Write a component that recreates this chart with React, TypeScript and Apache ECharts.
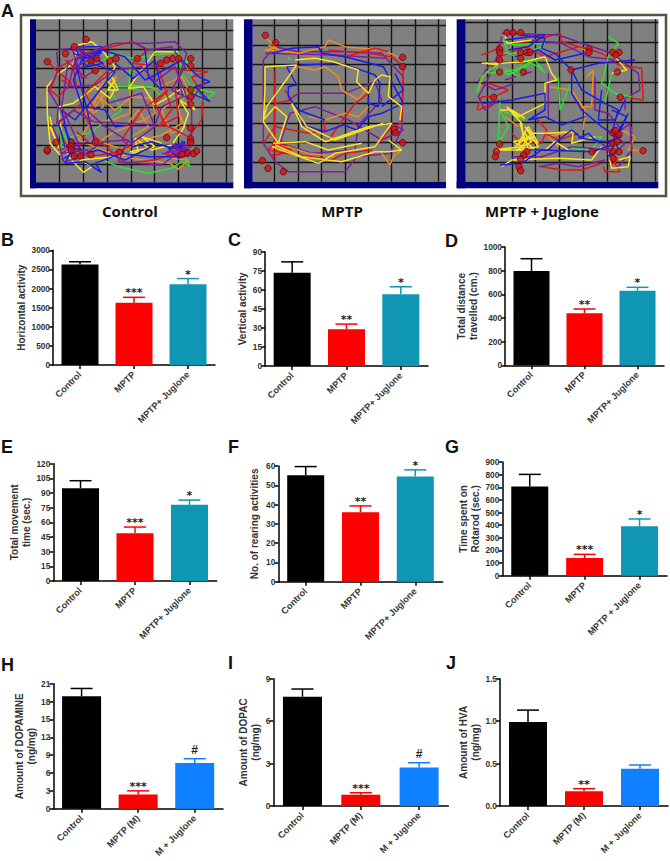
import React, { useEffect, useRef } from "react";
import * as echarts from "echarts";

// ---------- Bar panel data ----------
const catsTreat = ["Control", "MPTP", "MPTP+ Juglone"];
const catsTreatG = ["Control", "MPTP", "MPTP + Juglone"];
const catsNeuro = ["Control", "MPTP (M)", "M + Juglone"];

const horizontalMean = [2630, 1630, 2110];
const horizontalTop = [2700, 1770, 2260];
const verticalMean = [73.5, 28.9, 56.4];
const verticalTop = [82, 33, 62.4];
const distanceMean = [797, 440, 631];
const distanceTop = [901, 476, 659];
const movementMean = [95, 48.8, 78];
const movementTop = [102.6, 55.2, 82.8];
const rearingMean = [55.2, 36, 54.5];
const rearingTop = [59.7, 39.3, 58];
const rotarodMean = [707, 140, 391];
const rotarodTop = [802, 169, 449];
const dopamineMean = [18.9, 2.4, 7.67];
const dopamineTop = [20.2, 3.0, 8.4];
const dopacMean = [7.73, 0.8, 2.73];
const dopacTop = [8.27, 0.94, 3.06];
const hvaMean = [0.99, 0.173, 0.44];
const hvaTop = [1.13, 0.204, 0.483];

const sigB = ["", "***", "*"];
const sigC = ["", "**", "*"];
const sigE = ["", "***", "*"];
const sigH = ["", "***", "#"];
const sigJ = ["", "**", ""];

const BLACK = "#000000";
const RED = "#ff0000";
const TEAL = "#0f96b3";
const BLUE = "#0f80ff";
const colorsTeal = [BLACK, RED, TEAL];
const colorsBlue = [BLACK, RED, BLUE];

type Panel = {
  letter: string; lx: number; ly: number;
  name: string; nameGap: number;
  cats: string[]; mean: number[]; top: number[]; sig: string[]; colors: string[];
  max: number; step: number; digits: number;
  l: number; r: number; t: number; b: number; bw: number;
};

const panels: Panel[] = [
  { letter: "B", lx: 1, ly: 240, name: "Horizontal activity", nameGap: 26, cats: catsTreat, mean: horizontalMean, top: horizontalTop, sig: sigB, colors: colorsTeal, max: 3000, step: 500, digits: 0, l: 53, r: 215, t: 250.3, b: 365, bw: 37 },
  { letter: "C", lx: 228, ly: 240, name: "Vertical activity", nameGap: 17, cats: catsTreat, mean: verticalMean, top: verticalTop, sig: sigC, colors: colorsTeal, max: 90, step: 15, digits: 0, l: 265, r: 428, t: 251.7, b: 366, bw: 37 },
  { letter: "D", lx: 445, ly: 241, name: "Total distance\ntravelled (cm.)", nameGap: 22, cats: catsTreat, mean: distanceMean, top: distanceTop, sig: sigC, colors: colorsTeal, max: 1000, step: 200, digits: 0, l: 505, r: 664, t: 247, b: 365.3, bw: 36 },
  { letter: "E", lx: 1, ly: 447, name: "Total movement\ntime (sec.)", nameGap: 16, cats: catsTreat, mean: movementMean, top: movementTop, sig: sigE, colors: colorsTeal, max: 120, step: 15, digits: 0, l: 53.3, r: 216.7, t: 463.7, b: 581, bw: 37 },
  { letter: "F", lx: 228, ly: 447, name: "No. of rearing activities", nameGap: 18, cats: catsTreat, mean: rearingMean, top: rearingTop, sig: sigC, colors: colorsTeal, max: 60, step: 10, digits: 0, l: 278.3, r: 442.7, t: 466, b: 581.7, bw: 37 },
  { letter: "G", lx: 445, ly: 447, name: "Time spent on\nRotarod (sec.)", nameGap: 15, cats: catsTreatG, mean: rotarodMean, top: rotarodTop, sig: sigE, colors: colorsTeal, max: 900, step: 100, digits: 0, l: 502.3, r: 667, t: 462, b: 575.7, bw: 37 },
  { letter: "H", lx: 1, ly: 665, name: "Amount of DOPAMINE\n(ng/mg)", nameGap: 15, cats: catsNeuro, mean: dopamineMean, top: dopamineTop, sig: sigH, colors: colorsBlue, max: 21, step: 3, digits: 0, l: 53.3, r: 223, t: 683.7, b: 808.7, bw: 39 },
  { letter: "I", lx: 228, ly: 663, name: "Amount of DOPAC\n(ng/mg)", nameGap: 10, cats: catsNeuro, mean: dopacMean, top: dopacTop, sig: sigH, colors: colorsBlue, max: 9, step: 3, digits: 0, l: 273.3, r: 448.3, t: 678.7, b: 806, bw: 39 },
  { letter: "J", lx: 446, ly: 663, name: "Amount of HVA\n(ng/mg)", nameGap: 16, cats: catsNeuro, mean: hvaMean, top: hvaTop, sig: sigJ, colors: colorsBlue, max: 1.5, step: 0.5, digits: 1, l: 500, r: 668, t: 678.7, b: 806, bw: 38 },
];

// ---------- Open-field tracking data (arena units) ----------
type Poly = number[][];
const YELLOW = "#ffe21a", TRED = "#e5141a", TBLUE = "#1c1ce6", PURPLE = "#7d1f9c", ORANGE = "#f08c1e", GREEN = "#2fe02f";

const a1Yellow: Poly[] = [[[135,435],[105,400],[97,310],[96,230],[125,195],[175,160],[190,105],[230,95],[265,125],[300,170],[280,215],[300,235],[285,265],[240,230],[175,280],[130,290],[140,370],[160,440],[205,487],[232,470],[195,450],[300,440],[370,425],[360,385],[410,420],[470,405],[505,355],[520,310],[495,270],[540,300],[500,235],[455,265],[420,285],[385,230],[340,235],[420,125],[490,125]],[[105,350],[135,420],[115,370],[105,320]],[[290,200],[310,240],[280,240],[300,210]],[[345,425],[420,410],[380,380],[440,400]]];
const a1Orange: Poly[] = [[[240,180],[270,200],[235,290],[205,320],[250,260],[300,300],[350,260],[410,265],[420,310],[385,330],[290,370],[255,395],[330,420],[385,390],[440,375],[500,340],[490,290],[520,240],[500,200],[425,235],[345,225],[345,310],[290,330],[225,340],[190,390],[310,440],[465,460],[490,478],[520,450],[470,445]],[[250,210],[265,290],[220,320],[270,250],[305,200],[240,240]],[[490,300],[510,350],[470,370],[440,300],[500,250]],[[350,380],[400,350],[370,300],[330,350]]];
const a1Red: Poly[] = [[[97,155],[135,190],[170,220],[130,260],[105,240],[135,170],[210,130],[290,110],[350,95],[400,120],[350,160],[440,170],[500,180],[580,185],[530,200],[565,260],[560,330],[520,380],[450,345],[420,280],[460,240],[380,300],[340,360],[320,390],[345,410],[290,430],[220,440],[150,400],[130,340],[195,285],[240,380],[330,460],[420,450],[480,430],[520,400]],[[140,210],[185,235],[175,170],[150,150],[215,205]],[[430,170],[470,300],[430,350],[490,320],[480,230]],[[240,300],[210,250],[280,180],[250,150]],[[130,420],[175,410],[220,395],[185,365]],[[440,430],[515,440],[500,390]]];
const a1Blue: Poly[] = [[[140,450],[170,430],[140,300],[180,330],[205,300],[175,210],[200,150],[260,125],[230,160],[300,185],[255,240],[215,290],[270,300],[300,350],[350,345],[350,410],[410,395],[470,415],[520,420],[480,440],[400,440],[320,430],[240,460],[260,488],[210,455],[150,460],[180,400],[240,400],[180,150],[260,120],[330,140],[390,210],[420,195],[500,150],[550,200],[585,215],[540,230],[585,275],[530,250]],[[175,130],[215,145],[190,110],[260,110],[215,170],[180,115],[265,160],[195,175]],[[470,410],[505,425],[480,400],[525,430],[490,445],[460,415],[510,395],[495,430]],[[130,340],[150,410],[200,420],[160,380],[145,340],[180,440],[250,420],[330,450],[410,410]],[[390,120],[400,200],[440,240],[420,150],[355,205],[300,160]]];
const a1Purple: Poly[] = [[[125,125],[130,180],[100,240],[130,290],[125,340],[175,300],[235,335],[330,340],[420,345],[440,290],[505,260],[490,210],[515,130],[480,95],[410,100],[300,100],[240,120],[180,150],[160,230],[240,225],[300,180],[380,170],[420,215],[480,170],[530,300],[530,390],[500,420],[440,465],[370,460],[310,455],[340,390],[265,395],[190,445],[145,455],[130,390],[110,345]],[[130,120],[210,110],[170,180],[235,140],[170,110],[200,205],[250,175]],[[470,400],[520,440],[500,400],[450,430],[530,410]],[[160,150],[140,290],[190,400],[140,430],[220,420]],[[350,95],[400,120],[470,110],[510,170],[470,240],[530,270],[570,210]],[[280,280],[380,250],[420,350],[350,400],[270,350],[215,300]]];
const a1Green: Poly[] = [[[125,320],[140,400],[130,430],[170,380],[220,370],[265,340],[320,300],[280,230],[410,230],[440,260],[500,265],[560,240],[600,248],[565,275],[500,190],[490,125],[350,145],[300,130],[265,150]],[[240,440],[310,470],[400,490],[470,475],[500,455],[525,470],[510,440]],[[135,350],[170,420],[120,400]],[[350,150],[340,240],[380,230]],[[500,430],[470,410]],[[520,190],[510,140],[540,220],[510,260]]];
const a1Dots = [[213,88],[178,110],[151,131],[97,155],[245,146],[228,153],[285,153],[303,146],[241,182],[367,146],[437,160],[455,150],[473,146],[491,146],[527,146],[527,168],[527,239],[527,261],[527,283],[527,354],[455,383],[527,387],[527,397],[123,397],[97,423],[169,397],[169,408],[169,420],[178,438],[196,438],[228,434],[241,397],[313,426],[501,433],[519,428],[536,431],[545,423],[97,420]];
const a1XLines = [133,204,277,348,419,491,562,633];
const a1YLines = [60,118,175,233,291,347,405,463];

const a2Purple: Poly[] = [[[85,150],[85,400],[120,455],[160,485],[330,485],[365,440],[465,430],[500,360],[505,200],[440,130],[330,125],[190,125],[120,110],[85,150]],[[160,270],[190,250],[330,250],[420,215],[440,270],[370,345],[360,420],[230,430],[135,400],[165,310],[240,290],[340,330],[440,390],[505,360],[470,340]],[[90,130],[300,135],[450,145]]];
const a2Yellow: Poly[] = [[[90,170],[185,165],[150,215],[95,290],[85,330],[120,290],[155,320],[130,400],[85,335],[90,240],[90,170]],[[110,410],[165,430],[250,460],[300,430],[420,410],[470,340],[400,350],[270,395],[200,350],[170,280],[215,350],[300,390],[400,355],[445,340]],[[180,150],[240,145],[295,155],[370,180],[365,215],[400,250],[420,210],[440,195],[465,200],[460,260],[500,290],[495,330]],[[120,405],[200,440],[320,455],[420,425],[460,425],[500,420],[460,390]],[[115,400],[210,395],[280,420],[380,400]]];
const a2Blue: Poly[] = [[[110,130],[170,115],[250,110],[260,130],[330,140],[445,170],[505,280],[440,310],[400,320],[365,360],[325,345],[270,365],[205,345],[190,300],[160,260],[160,230],[185,225],[155,170],[205,165],[310,160],[350,170],[420,195],[435,220],[430,290],[400,280],[400,260]],[[270,330],[190,300]],[[480,190],[505,240],[440,290]]];
const a2Orange: Poly[] = [[[85,75],[125,115],[90,120],[190,130],[270,110],[280,90],[330,110],[440,120],[490,140]],[[150,170],[190,170],[240,180],[270,170],[310,200],[320,240],[370,270],[390,240]],[[220,320],[270,330],[330,310],[370,320],[400,290]],[[440,430],[465,465],[475,440],[500,420]],[[110,410],[160,410],[220,430],[300,440]],[[100,105],[140,125]]];
const a2Red: Poly[] = [[[120,180],[118,400],[100,420],[150,430],[230,440],[290,450],[330,430],[410,420]],[[85,400],[120,350],[220,370],[270,360],[265,330]],[[120,280],[170,270],[150,240]],[[280,120],[400,130],[470,140],[505,170],[500,340],[470,350],[430,400]],[[260,130],[330,140],[420,115],[460,125]],[[280,390],[360,280],[400,250]],[[110,400],[170,420],[110,440],[140,400]]];
const a2Green: Poly[] = [[[160,140],[165,150]]];
const a2Dots = [[91,76],[122,98],[503,142],[503,170],[478,358],[482,368],[503,398],[82,452],[99,475],[145,485]];
const a2XLines = [117,189,259,330,400,470,541,610];
const a2YLines = [47,105,163,222,281,340,398,457];

const a3Green: Poly[] = [[[95,250],[110,200],[150,170],[190,195],[240,170],[270,150],[300,190],[280,170],[190,130],[175,90],[205,105],[300,100]],[[165,260],[160,400],[190,350],[165,300],[240,330]],[[340,200],[345,300],[375,225]],[[490,80],[520,100],[490,140],[470,220],[510,250],[560,260]],[[420,385],[470,380],[440,420],[380,415]],[[500,190],[480,280]],[[130,190],[210,180],[250,160],[220,200],[180,175]],[[165,130],[240,130],[290,110]]];
const a3Blue: Poly[] = [[[230,75],[300,85],[290,115],[330,130],[380,180],[380,250],[410,300],[470,350],[500,370],[520,300],[480,280],[410,240],[380,180],[460,160],[570,150]],[[115,280],[200,270],[300,250],[300,300],[250,330],[300,320],[350,345],[420,320]],[[240,420],[310,420],[340,390],[380,360],[410,385],[480,395],[505,390],[550,310]],[[165,465],[230,460],[290,420],[440,425],[520,400]],[[210,140],[280,120],[330,150],[420,130]],[[490,400],[530,380],[500,360],[520,420],[490,440],[545,320],[500,300]],[[180,90],[300,75],[250,110],[190,120]],[[470,240],[460,330],[510,330],[540,270]],[[400,385],[430,370],[460,400]]];
const a3Yellow: Poly[] = [[[110,160],[165,160],[240,155],[300,140],[320,190],[335,210],[300,220],[300,280],[220,320],[185,290],[230,340],[235,390],[270,420],[210,420],[150,420],[230,410],[260,370],[310,370],[385,365],[380,400],[450,380]],[[220,400],[250,350],[280,400],[250,380],[210,410]],[[170,470],[200,450],[340,445],[440,450],[470,410]],[[490,430],[500,475],[550,470],[555,440],[520,450]],[[510,140],[545,180],[500,190]],[[180,75],[185,100],[260,90]],[[225,340],[250,420],[205,395],[270,380],[240,350],[280,410],[215,420],[260,395],[235,365]],[[165,300],[200,300],[240,325]],[[300,420],[330,395],[370,420]],[[120,160],[160,165]]];
const a3Orange: Poly[] = [[[100,240],[120,190],[140,175]],[[310,370],[380,365],[310,380],[340,410]],[[310,230],[380,240],[420,300],[415,360]],[[180,320],[220,350]],[[530,360],[570,380],[550,420],[594,422]],[[425,200],[445,180],[440,290],[400,290]],[[400,110],[440,130]]];
const a3Red: Poly[] = [[[110,135],[150,120],[165,100],[250,95],[345,70],[350,95],[470,130],[520,165],[590,175],[595,270],[555,265]],[[95,300],[110,260],[150,260],[190,240],[130,220]],[[100,300],[165,270]],[[270,320],[305,360],[290,400],[230,400],[200,370]],[[290,470],[350,480],[410,480],[470,460]],[[475,470],[480,485],[525,485],[490,430]],[[560,350],[555,400]],[[300,370],[340,390],[400,370]],[[165,140],[240,110],[300,140],[400,110]],[[480,410],[520,450],[490,470]]];
const a3Purple: Poly[] = [[[170,80],[160,130],[125,215],[100,260],[120,300],[170,265]],[[170,70],[340,75],[500,130],[580,190],[585,240],[540,265],[540,300]],[[450,200],[450,300],[490,310],[530,360],[555,340],[560,420],[520,470]],[[310,190],[310,330]],[[180,210],[260,185]],[[280,470],[340,460],[400,470],[480,450]],[[200,440],[290,440],[380,410],[490,420]],[[165,150],[130,170],[100,215],[150,240],[210,220]],[[240,90],[350,100],[430,140],[510,150]],[[470,400],[510,430],[540,400],[500,370]]];
const a3Dots = [[186,68],[204,68],[227,68],[164,118],[164,128],[227,128],[245,127],[255,127],[227,145],[164,150],[164,186],[235,186],[432,117],[432,127],[378,180],[503,127],[522,127],[512,135],[517,186],[146,262],[526,262],[503,368],[512,362],[522,373],[503,400],[517,394],[164,402],[154,425],[151,440],[245,425],[236,435],[227,447],[441,425],[504,425],[522,425],[504,445],[594,422],[222,470],[227,482]];
const a3XLines = [128,201,272,343,416,488,560,631];
const a3YLines = [38,97,157,218,277,337,396,456];

type Arena = {
  ox: number; oy: number; xMin: number; xMax: number; blueL: number; bottom: number;
  xLines: number[]; yLines: number[]; dots: number[][]; tracks: [string, Poly[]][];
};
const arenas: Arena[] = [
  { ox: 15, oy: 10, xMin: 63, xMax: 655, blueL: 45, bottom: 517, xLines: a1XLines, yLines: a1YLines, dots: a1Dots,
    tracks: [[ORANGE, a1Orange], [GREEN, a1Green], [YELLOW, a1Yellow], [TRED, a1Red], [TBLUE, a1Blue], [PURPLE, a1Purple]] },
  { ox: 235, oy: 10, xMin: 53, xMax: 633, blueL: 27, bottom: 515, xLines: a2XLines, yLines: a2YLines, dots: a2Dots,
    tracks: [[GREEN, a2Green], [PURPLE, a2Purple], [ORANGE, a2Orange], [TRED, a2Red], [TBLUE, a2Blue], [YELLOW, a2Yellow]] },
  { ox: 445, oy: 10, xMin: 62, xMax: 640, blueL: 35, bottom: 515, xLines: a3XLines, yLines: a3YLines, dots: a3Dots,
    tracks: [[ORANGE, a3Orange], [TRED, a3Red], [PURPLE, a3Purple], [GREEN, a3Green], [YELLOW, a3Yellow], [TBLUE, a3Blue]] },
];

const arenaCaptions = ["Control", "MPTP", "MPTP + Juglone"];
const captionX = [130, 342, 542];
const ARENA_TOP = 28;
const ARENA_BLUE_BOTTOM = 535;
const AXIS_FONT = "Liberation Sans";
const CAP_FONT = "Open Sans";

function buildOption() {
  const grid: any[] = [], xAxis: any[] = [], yAxis: any[] = [], series: any[] = [], graphic: any[] = [];

  graphic.push({ type: "rect", shape: { x: 21, y: 15, width: 645, height: 181 }, style: { fill: "none", stroke: "#56543d", lineWidth: 2.5 }, z: 1 });
  graphic.push({ type: "text", x: 1, y: 11, style: { text: "A", font: `bold 18px ${AXIS_FONT}`, fill: "#111", verticalAlign: "middle" }, z: 10 });

  arenas.forEach((a, i) => {
    const s = 1 / 3;
    grid.push({
      show: true, backgroundColor: "#808080", borderWidth: 0,
      left: a.ox + a.xMin * s, top: a.oy + ARENA_TOP * s,
      width: (a.xMax - a.xMin) * s, height: (a.bottom - ARENA_TOP) * s,
    });
    const idx = grid.length - 1;
    const line = { show: true, lineStyle: { color: "#141414", width: 1.4 } };
    xAxis.push({ gridIndex: idx, type: "value", min: a.xMin, max: a.xMax, axisLine: { show: false }, axisLabel: { show: false }, axisTick: { show: false, customValues: a.xLines }, splitLine: line, silent: true });
    yAxis.push({ gridIndex: idx, type: "value", inverse: true, min: ARENA_TOP, max: a.bottom, axisLine: { show: false }, axisLabel: { show: false }, axisTick: { show: false, customValues: a.yLines }, splitLine: line, silent: true });
    a.tracks.forEach(([color, polys]) => {
      polys.forEach((p) => series.push({
        type: "line", xAxisIndex: idx, yAxisIndex: idx, data: p, showSymbol: false, symbol: "none", silent: true,
        lineStyle: { color, width: 1.5 }, z: 3,
      }));
    });
    series.push({ type: "scatter", xAxisIndex: idx, yAxisIndex: idx, data: a.dots, symbol: "circle", symbolSize: 6.5, silent: true, itemStyle: { color: "#d40f0f", borderColor: "#5a0a0a", borderWidth: 1 }, z: 5 });
    graphic.push({ type: "rect", shape: { x: a.ox + a.blueL * s, y: a.oy + ARENA_TOP * s, width: (a.xMin - a.blueL) * s, height: (ARENA_BLUE_BOTTOM - ARENA_TOP) * s }, style: { fill: "#00007c" }, z: 10 });
    graphic.push({ type: "rect", shape: { x: a.ox + a.blueL * s, y: a.oy + a.bottom * s, width: (a.xMax - a.blueL) * s, height: (ARENA_BLUE_BOTTOM - a.bottom) * s }, style: { fill: "#00007c" }, z: 10 });
    graphic.push({ type: "text", x: captionX[i], y: 211, style: { text: arenaCaptions[i], font: `bold 15px ${CAP_FONT}`, fill: "#111", align: "center", verticalAlign: "middle" }, z: 10 });
  });

  panels.forEach((p) => {
    grid.push({ left: p.l, top: p.t, width: p.r - p.l, height: p.b - p.t });
    const idx = grid.length - 1;
    const axisStyle = { show: true, lineStyle: { color: "#000", width: 1.5 } };
    xAxis.push({
      gridIndex: idx, type: "category", data: p.cats, axisLine: axisStyle,
      axisTick: { show: true, alignWithLabel: true, length: 4, lineStyle: { color: "#000", width: 1.5 } },
      axisLabel: { interval: 0, rotate: 45, margin: 8, fontSize: 9.2, fontWeight: "bold", fontFamily: AXIS_FONT, color: "#3a3a3a" },
      splitLine: { show: false },
    });
    yAxis.push({
      gridIndex: idx, type: "value", min: 0, max: p.max, interval: p.step,
      name: p.name, nameLocation: "middle", nameGap: p.nameGap, nameRotate: 90,
      nameTextStyle: { fontSize: 10, fontWeight: "bold", fontFamily: AXIS_FONT, color: "#333", lineHeight: 12 },
      axisLine: { ...axisStyle, onZero: false }, axisTick: { show: true, length: 4, lineStyle: { color: "#000", width: 1.5 } },
      axisLabel: { margin: 3, fontSize: 8.3, fontWeight: "bold", fontFamily: AXIS_FONT, color: "#333", formatter: (v: number) => v.toFixed(p.digits) },
      splitLine: { show: false },
    });
    series.push({
      type: "bar", xAxisIndex: idx, yAxisIndex: idx, barWidth: p.bw, silent: true,
      data: p.mean.map((v, i) => ({ value: v, itemStyle: { color: p.colors[i] } })), z: 3,
    });
    series.push({
      type: "custom", xAxisIndex: idx, yAxisIndex: idx, silent: true, clip: false, z: 2,
      encode: { x: 0, y: [1, 2] },
      data: p.mean.map((v, i) => [i, v, p.top[i]]),
      renderItem: (_: any, api: any) => {
        const i = api.value(0);
        const a = api.coord([i, api.value(1)]);
        const b = api.coord([i, api.value(2)]);
        const stroke = p.colors[i];
        const st = { stroke, lineWidth: 1.5 };
        const children: any[] = [
          { type: "line", shape: { x1: a[0], y1: a[1], x2: b[0], y2: b[1] }, style: st },
          { type: "line", shape: { x1: b[0] - 11, y1: b[1], x2: b[0] + 11, y2: b[1] }, style: st },
        ];
        const sig = p.sig[i];
        if (sig) {
          const hash = sig === "#";
          children.push({
            type: "text",
            style: {
              x: b[0], y: hash ? b[1] - 3 : b[1] + 1, text: sig, align: "center", verticalAlign: "bottom",
              fontFamily: hash ? AXIS_FONT : "DejaVu Sans", fontSize: hash ? 12 : 11, fontWeight: "bold",
              fill: "#222222", stroke: "none", lineWidth: 0,
            },
          });
        }
        return { type: "group", children };
      },
    });
    graphic.push({ type: "text", x: p.lx, y: p.ly, style: { text: p.letter, font: `bold 18px ${AXIS_FONT}`, fill: "#111", verticalAlign: "middle" }, z: 10 });
  });

  return { animation: false, backgroundColor: "#ffffff", grid, xAxis, yAxis, series, graphic };
}

export default function App() {
  const ref = useRef<HTMLDivElement>(null);
  useEffect(() => {
    const chart = echarts.init(ref.current as HTMLDivElement, undefined, { renderer: "svg" });
    chart.setOption(buildOption() as any);
    return () => chart.dispose();
  }, []);
  return <div ref={ref} style={{ position: "absolute", left: 0, top: 0, width: 670, height: 861 }} />;
}
